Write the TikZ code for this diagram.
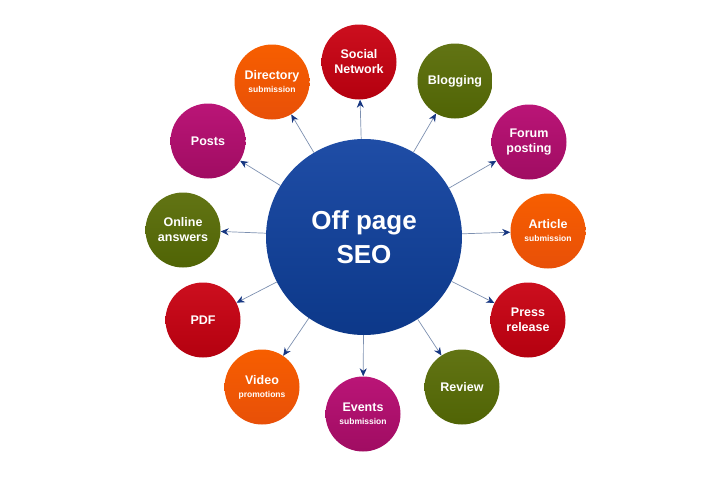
\documentclass[tikz,border=0pt]{standalone}
\usepackage{fontspec}
\setmainfont{Liberation Sans}
\usetikzlibrary{arrows.meta}
\definecolor{hubtop}{HTML}{1F4DA6}
\definecolor{hubbot}{HTML}{0C3889}
\definecolor{redtop}{HTML}{CC0F1E}
\definecolor{redbot}{HTML}{B4000F}
\definecolor{olivetop}{HTML}{627414}
\definecolor{olivebot}{HTML}{506405}
\definecolor{magtop}{HTML}{BA1577}
\definecolor{magbot}{HTML}{A00C62}
\definecolor{orgtop}{HTML}{F75E00}
\definecolor{orgbot}{HTML}{E85008}
\definecolor{linkgrey}{HTML}{7D90B0}
\definecolor{tipblue}{HTML}{163681}
\newcommand{\subline}[1]{{\fontsize{8.5}{13}\selectfont #1}}

\begin{document}
\begin{tikzpicture}[x=1pt,y=-1pt,
	hub/.style={circle,minimum size=196pt,inner sep=0pt,top color=hubtop,bottom color=hubbot,
		text=white,align=center,font=\fontsize{26}{34}\selectfont\bfseries},
	leaf/.style={circle,minimum size=75pt,inner sep=0pt,text=white,align=center,
		font=\fontsize{12.5}{15}\selectfont\bfseries},
	redleaf/.style={leaf,top color=redtop,bottom color=redbot},
	oliveleaf/.style={leaf,top color=olivetop,bottom color=olivebot},
	magleaf/.style={leaf,top color=magtop,bottom color=magbot},
	orgleaf/.style={leaf,top color=orgtop,bottom color=orgbot},
	link/.style={draw=linkgrey,line width=0.7pt,-{Stealth[length=8pt,width=7pt,color=tipblue]}}]
		\useasboundingbox (0,0) rectangle (709,490);
		
		\node (hub) at (364,237) [hub] {Off page\\SEO};
		
		\node (social) at (359,62) [redleaf] {Social\\Network};
		\node (blogging) at (455,81) [oliveleaf] {Blogging};
		\node (forum) at (529,142) [magleaf] {Forum\\posting};
		\node (article) at (548,231) [orgleaf] {Article\\[-2pt]\subline{submission}};
		\node (press) at (528,320) [redleaf] {Press\\release};
		\node (review) at (462,387) [oliveleaf] {Review};
		\node (events) at (363,414) [magleaf] {Events\\[-2pt]\subline{submission}};
		\node (video) at (262,387) [orgleaf] {Video\\[-2pt]\subline{promotions}};
		\node (pdf) at (203,320) [redleaf] {PDF};
		\node (online) at (183,230) [oliveleaf] {Online\\answers};
		\node (posts) at (208,141) [magleaf] {Posts};
		\node (directory) at (272,82) [orgleaf] {Directory\\[-2pt]\subline{submission}};
		
		\draw[link] (hub)--(social);
		\draw[link] (hub)--(blogging);
		\draw[link] (hub)--(forum);
		\draw[link] (hub)--(article);
		\draw[link] (hub)--(press);
		\draw[link] (hub)--(review);
		\draw[link] (hub)--(events);
		\draw[link] (hub)--(video);
		\draw[link] (hub)--(pdf);
		\draw[link] (hub)--(online);
		\draw[link] (hub)--(posts);
		\draw[link] (hub)--(directory);
	\end{tikzpicture}
\end{document}
